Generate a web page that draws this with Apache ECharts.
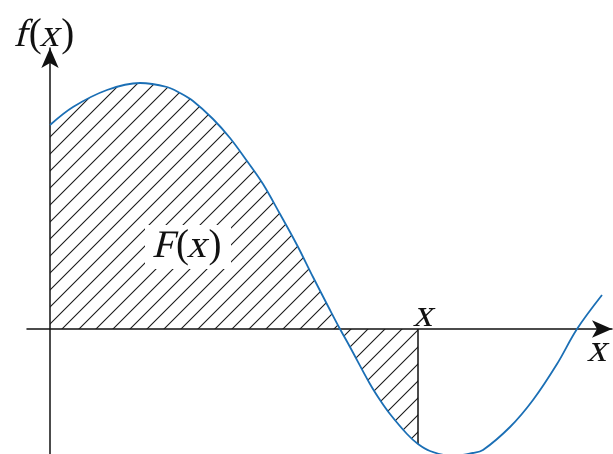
<!DOCTYPE html>
<html>
<head>
<meta charset="utf-8">
<script src="https://cdn.jsdelivr.net/npm/echarts@6/dist/echarts.min.js"></script>
<style>
  html, body { margin: 0; padding: 0; background: #fff; }
  #chart { width: 613px; height: 454px; }
</style>
</head>
<body>
<div id="chart"></div>
<script>
// curve (x right of the f axis, y above the x axis)
const curveX = [0, 23, 57, 90, 117, 130, 143, 163, 180, 197, 213, 230, 247, 263, 280, 290,
  300, 320, 330, 340, 357, 368, 380, 402, 423, 433, 460, 483, 507, 527, 552]
const curveY = [204, 222, 239, 246, 242, 236, 228, 210, 191, 168, 145, 115, 84, 52, 19, 0,
  -18, -55, -71, -85, -105, -115, -122, -127, -124, -121, -98, -71, -35, 0, 34]
const upperX = 368 // the x where the shaded area stops
const upperY = -115
const labelTexts = ['f(x)', 'F(x)', 'x', 'x']
const labelPos = [[-5, 293], [138, 82], [375, 13], [549, -22]]

const curve = curveX.map((x, i) => [x, curveY[i]])
const shaded = curve.filter(p => p[0] <= upperX)

// diagonal hatch tile
const tile = document.createElement('canvas')
tile.width = 17
tile.height = 17
const ctx = tile.getContext('2d')
ctx.strokeStyle = '#1a1a1a'
ctx.lineWidth = 1.1
ctx.beginPath()
ctx.moveTo(-1, 18); ctx.lineTo(18, -1)
ctx.moveTo(-2, 2); ctx.lineTo(2, -2)
ctx.moveTo(15, 19); ctx.lineTo(19, 15)
ctx.stroke()

const myChart = echarts.init(document.getElementById('chart'))
const option = {
  animation: false,
  grid: { left: 27, right: 1, top: 48, bottom: 0 },
  xAxis: {
    type: 'value',
    min: -23,
    max: 562,
    axisLine: { symbol: ['none', 'arrow'], symbolSize: [13, 20], lineStyle: { color: '#111', width: 1.5 } },
    axisTick: { show: false },
    axisLabel: { show: false },
    splitLine: { show: false },
  },
  yAxis: {
    type: 'value',
    min: -125,
    max: 281,
    axisLine: { symbol: ['none', 'arrow'], symbolSize: [13, 20], lineStyle: { color: '#111', width: 1.5 } },
    axisTick: { show: false },
    axisLabel: { show: false },
    splitLine: { show: false },
  },
  series: [
    {
      name: 'area',
      type: 'line',
      data: shaded,
      smooth: 0.35,
      symbol: 'none',
      lineStyle: { width: 0, opacity: 0 },
      areaStyle: { color: { image: tile, repeat: 'repeat' }, opacity: 1 },
      z: 1,
    },
    {
      name: 'edge',
      type: 'line',
      data: [[upperX, 0], [upperX, upperY]],
      symbol: 'none',
      lineStyle: { color: '#111', width: 1.5 },
      z: 3,
    },
    {
      name: 'f',
      type: 'line',
      data: curve,
      smooth: 0.35,
      symbol: 'none',
      clip: false,
      lineStyle: { color: '#1b6fb5', width: 1.8 },
      z: 4,
    },
  ],
}
myChart.setOption(option, true)

// italic serif faces are missing, so slant the letters of the upright serif
// and keep the brackets upright, one glyph per text element
const fontSize = 39
const fontFamily = 'Liberation Serif'
const measure = document.createElement('canvas').getContext('2d')
measure.font = fontSize + 'px ' + fontFamily
const pix = labelPos.map(p => myChart.convertToPixel({ gridIndex: 0 }, p))
const graphics = []
graphics.push({
  type: 'rect',
  x: pix[1][0] - 43,
  y: pix[1][1] - 22,
  shape: { width: 86, height: 44 },
  style: { fill: '#fff' },
  z: 20,
})
labelTexts.forEach((t, i) => {
  const chars = t.split('')
  const widths = chars.map(c => measure.measureText(c).width)
  const total = widths.reduce((a, b) => a + b, 0)
  let cx = pix[i][0] - total / 2
  chars.forEach((c, k) => {
    const upright = c === '(' || c === ')'
    graphics.push({
      type: 'text',
      x: cx,
      y: pix[i][1],
      originX: widths[k] / 2,
      originY: 0,
      skewX: upright ? 0 : -0.25,
      z: 21,
      style: {
        text: c,
        fontFamily: fontFamily,
        fontSize: fontSize,
        fill: '#111',
        align: 'left',
        verticalAlign: 'middle',
      },
    })
    cx += widths[k]
  })
})
myChart.setOption({ graphic: graphics })
</script>
</body>
</html>
